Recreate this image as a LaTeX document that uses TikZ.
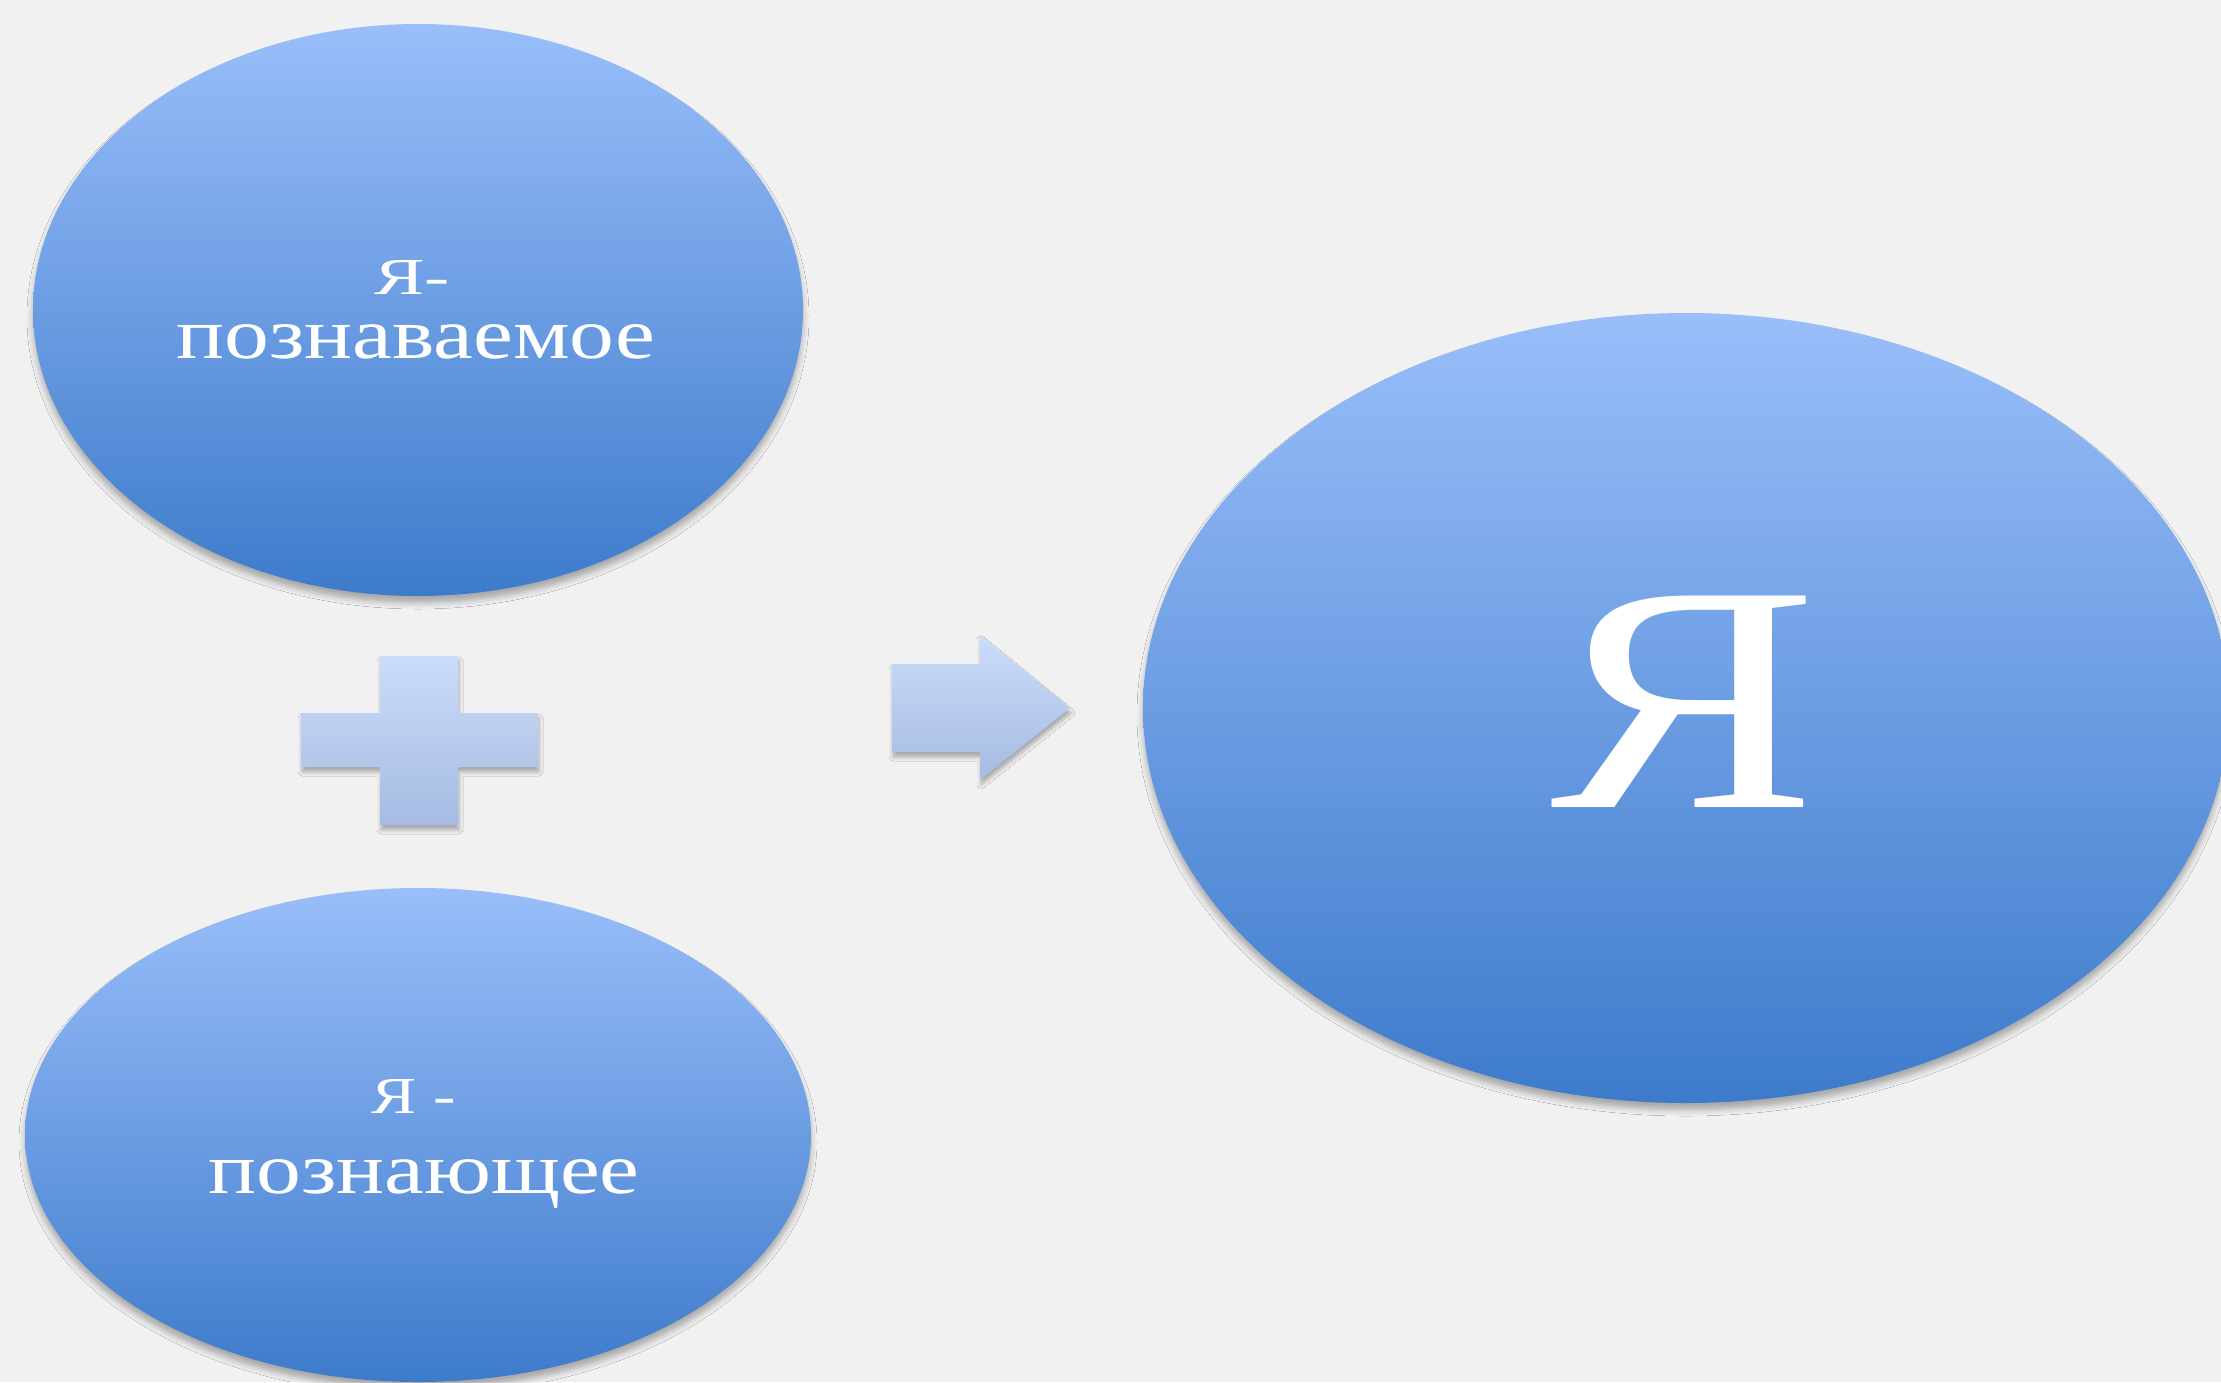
\documentclass[tikz,border=0pt]{standalone}
\usepackage{fontspec}
\setmainfont{Liberation Serif}
\usetikzlibrary{shapes.geometric,shadows.blur}
\definecolor{bgGray}{HTML}{F1F1F1}
\definecolor{ellTop}{HTML}{99BEFA}
\definecolor{ellBot}{HTML}{3D7BCB}
\definecolor{symTop}{HTML}{CADCFA}
\definecolor{symBot}{HTML}{A5BBE2}
\tikzset{
  bubble/.style={ellipse, inner sep=0pt, outer sep=0pt, draw=none,
    top color=ellTop, bottom color=ellBot,
    blur shadow={shadow xshift=0pt, shadow yshift=-7pt, shadow blur radius=6pt, shadow opacity=30}},
  symbolshape/.style={top color=symTop, bottom color=symBot,
    blur shadow={shadow xshift=1pt, shadow yshift=-5pt, shadow blur radius=4pt, shadow opacity=30}},
  lbl/.style={text=white, inner sep=0pt, outer sep=0pt, anchor=base},
  smallfont/.style={font=\fontsize{52}{60}\selectfont},
  bigfont/.style={font=\fontsize{72}{86}\selectfont},
}
\begin{document}
\begin{tikzpicture}[x=1pt,y=-1pt]
  \fill[bgGray] (0,0) rectangle (2221,1382);
  \useasboundingbox (0,0) rectangle (2221,1382);

  % ellipses
  \node[bubble, minimum width=770pt, minimum height=572pt] (known) at (418,310) {};
  \node[bubble, minimum width=786pt, minimum height=494pt] (knower) at (418,1135) {};
  \node[bubble, minimum width=1086pt, minimum height=790pt] (self) at (1686,708) {};

  % labels
  \node[lbl, smallfont] (knownA) at (412,294) {\scalebox{1.45}[1]{Я-}};
  \node[lbl, bigfont] (knownB) at (416,358) {\scalebox{1.245}[1]{познаваемое}};
  \node[lbl, smallfont] (knowerA) at (414,1113) {\scalebox{1.3}[1]{Я -}};
  \node[lbl, bigfont] (knowerB) at (424,1193) {\scalebox{1.245}[1]{познающее}};
  \node[lbl, font=\fontsize{323}{380}\selectfont] (selfA) at (1684,807) {\scalebox{1.24}[1]{Я}};

  % plus sign
  \path[symbolshape] (380,656) -- (458,656) -- (458,713) -- (538,713) -- (538,767)
    -- (458,767) -- (458,825) -- (380,825) -- (380,767) -- (301,767) -- (301,713)
    -- (380,713) -- cycle;

  % arrow
  \path[symbolshape] (892,664) -- (980,664) -- (980,635) -- (1070,708) -- (980,780)
    -- (980,752) -- (892,752) -- cycle;
\end{tikzpicture}
\end{document}
